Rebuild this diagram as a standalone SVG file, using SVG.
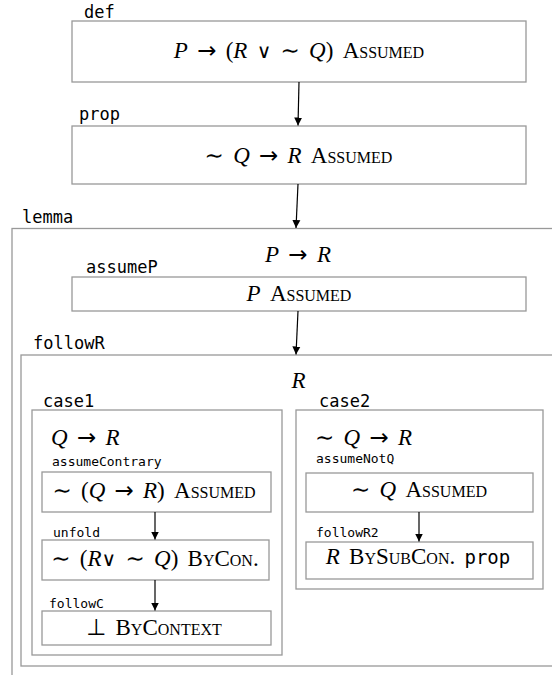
<svg xmlns="http://www.w3.org/2000/svg" width="552" height="675" viewBox="0 0 552 675">
<defs>
<marker id="ah" viewBox="0 0 10 10" refX="10" refY="5" markerWidth="8" markerHeight="10" markerUnits="userSpaceOnUse" orient="auto">
<path d="M0,0 L10,5 L0,10 z" fill="#000"/>
</marker>
<style>
.box{fill:#fff;stroke:#999;stroke-width:1.3}
.lbl{font-family:"DejaVu Sans Mono",monospace;font-size:17px;fill:#000}
.slbl{font-family:"DejaVu Sans Mono",monospace;font-size:13px;fill:#000}
.m{font-family:"Liberation Serif","DejaVu Serif",serif;font-size:23px;fill:#000;word-spacing:3.5px}
.i{font-style:italic}
.sc{font-variant:small-caps}
.s{font-family:"DejaVu Sans",sans-serif;font-style:normal}
.v{font-family:"DejaVu Sans",sans-serif;font-size:20px}
.tt{font-family:"DejaVu Sans Mono",monospace;font-size:19px}
.conn{stroke:#000;stroke-width:1.2;fill:none;marker-end:url(#ah)}
</style>
</defs>
<rect width="552" height="675" fill="#fff"/>

<g id="def">
<rect class="box" x="72" y="21" width="454" height="61"/>
<text class="lbl" x="84" y="18">def</text>
<text class="m" x="299" y="58" text-anchor="middle"><tspan class="i">P</tspan> <tspan class="s">→</tspan> (<tspan class="i">R</tspan> <tspan class="v">∨</tspan> <tspan class="s">∼</tspan> <tspan class="i">Q</tspan>) <tspan class="sc">Assumed</tspan></text>
</g>

<g id="prop">
<rect class="box" x="72" y="126" width="454" height="58"/>
<text class="lbl" x="79" y="120">prop</text>
<text class="m" x="298.5" y="163" text-anchor="middle"><tspan class="s">∼</tspan> <tspan class="i">Q</tspan> <tspan class="s">→</tspan> <tspan class="i">R</tspan> <tspan class="sc">Assumed</tspan></text>
</g>

<g id="lemma">
<rect class="box" x="12" y="228.5" width="580" height="500"/>
<text class="lbl" x="22" y="223">lemma</text>
<text class="m" x="298" y="262" text-anchor="middle"><tspan class="i">P</tspan> <tspan class="s">→</tspan> <tspan class="i">R</tspan></text>
</g>

<g id="assumeP">
<rect class="box" x="72" y="277" width="454" height="34"/>
<text class="lbl" x="86" y="272.5">assumeP</text>
<text class="m" x="299" y="301" text-anchor="middle"><tspan class="i">P</tspan> <tspan class="sc">Assumed</tspan></text>
</g>

<g id="followR">
<rect class="box" x="21" y="355" width="580" height="311"/>
<text class="lbl" x="33" y="349">followR</text>
<text class="m i" x="298.5" y="388" text-anchor="middle">R</text>
</g>

<g id="case1">
<rect class="box" x="32" y="410" width="250" height="245"/>
<text class="lbl" x="43" y="406.5">case1</text>
<text class="m" x="51" y="445"><tspan class="i">Q</tspan> <tspan class="s">→</tspan> <tspan class="i">R</tspan></text>
</g>

<g id="assumeContrary">
<rect class="box" x="42" y="472" width="229" height="40"/>
<text class="slbl" x="52" y="466">assumeContrary</text>
<text class="m" x="154" y="497.5" text-anchor="middle"><tspan class="s">∼</tspan> (<tspan class="i">Q</tspan> <tspan class="s">→</tspan> <tspan class="i">R</tspan>) <tspan class="sc">Assumed</tspan></text>
</g>

<g id="unfold">
<rect class="box" x="42" y="540" width="227" height="40"/>
<text class="slbl" x="53" y="536.5">unfold</text>
<text class="m" x="155" y="565.5" text-anchor="middle"><tspan class="s">∼</tspan> (<tspan class="i">R</tspan><tspan class="v">∨</tspan> <tspan class="s">∼</tspan> <tspan class="i">Q</tspan>) <tspan class="sc">ByCon.</tspan></text>
</g>

<g id="followC">
<rect class="box" x="42" y="611" width="229" height="34"/>
<text class="slbl" x="49" y="608">followC</text>
<text class="m" x="154" y="635" text-anchor="middle"><tspan class="s">⊥</tspan> <tspan class="sc">ByContext</tspan></text>
</g>

<g id="case2">
<rect class="box" x="296" y="410" width="247" height="179"/>
<text class="lbl" x="319" y="406.5">case2</text>
<text class="m" x="315" y="445"><tspan class="s">∼</tspan> <tspan class="i">Q</tspan> <tspan class="s">→</tspan> <tspan class="i">R</tspan></text>
</g>

<g id="assumeNotQ">
<rect class="box" x="306" y="473" width="227" height="39"/>
<text class="slbl" x="316" y="463">assumeNotQ</text>
<text class="m" x="419" y="497" text-anchor="middle"><tspan class="s">∼</tspan> <tspan class="i">Q</tspan> <tspan class="sc">Assumed</tspan></text>
</g>

<g id="followR2">
<rect class="box" x="306" y="542" width="227" height="37"/>
<text class="slbl" x="316" y="536.5">followR2</text>
<text class="m" x="418" y="564" text-anchor="middle"><tspan class="i">R</tspan> <tspan class="sc">BySubCon.</tspan> <tspan class="tt">prop</tspan></text>
</g>

<g id="connectors">
<line class="conn" x1="299" y1="82" x2="298" y2="125.5"/>
<line class="conn" x1="298" y1="184" x2="296" y2="228"/>
<line class="conn" x1="298" y1="311" x2="296" y2="354.5"/>
<line class="conn" x1="155" y1="512" x2="155" y2="539.5"/>
<line class="conn" x1="155" y1="580" x2="155" y2="610.5"/>
<line class="conn" x1="419" y1="512" x2="419" y2="541.5"/>
</g>
</svg>
